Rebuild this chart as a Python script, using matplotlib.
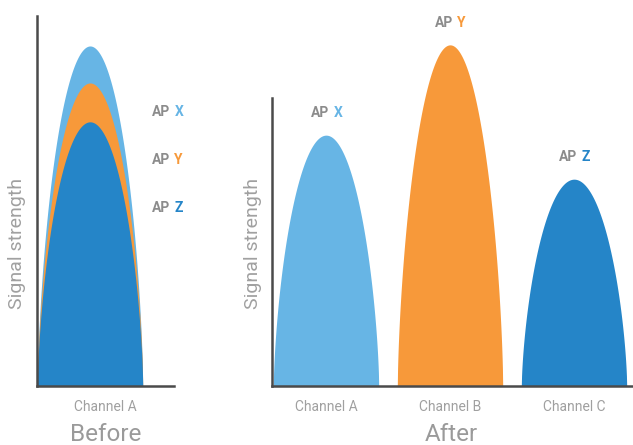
import numpy as np
import matplotlib
matplotlib.use("Agg")
import matplotlib.pyplot as plt
from matplotlib.transforms import offset_copy

# data
aps = ["X", "Y", "Z"]
ap_colors = ["#67B5E5", "#F7993A", "#2585C8"]
before_channels = ["Channel A"]
before_peaks = [91.9, 81.9, 71.4]          # X, Y, Z all on channel A
after_channels = ["Channel A", "Channel B", "Channel C"]
after_peaks = [67.8, 92.2, 55.9]           # X on A, Y on B, Z on C

plt.rcParams['font.family'] = ['Roboto', 'DejaVu Sans']

W, H = 633, 445
fig = plt.figure(figsize=(W / 100, H / 100), dpi=100)

# pixel helpers
base_px = 386
px_per_unit = 3.70       # 100 units = 370 px
ch_px = 124              # px between channels
half_w = 0.425

def make_ax(x0, x1, c0):
    ax = fig.add_axes([x0 / W, (H - base_px) / H, (x1 - x0) / W, base_px / H])
    ax.set_xlim((x0 - c0) / ch_px, (x1 - c0) / ch_px)
    ax.set_ylim(0, base_px / px_per_unit)
    ax.patch.set_visible(False)
    for s in ["top", "right"]:
        ax.spines[s].set_visible(False)
    for s in ["left", "bottom"]:
        ax.spines[s].set_color("#4a4a4a")
        ax.spines[s].set_linewidth(1.8)
    ax.set_yticks([])
    ax.tick_params(axis="x", length=0, pad=10, labelsize=10, labelcolor="#a0a0a0")
    ax.set_ylabel("Signal strength", fontsize=14, color="#a0a0a0")
    return ax

def bump(ax, xc, h, color):
    t = np.linspace(-1, 1, 400)
    y = h * (1 - t ** 2) ** 0.65
    ax.fill_between(xc + t * half_w, 0, y, color=color, lw=0)

def ap_label(ax, x, y, letter, color, dy=0):
    tr = ax.transData
    ax.text(x, y, "AP", transform=offset_copy(tr, fig, x=-1.5, y=dy, units="dots"),
            ha="right", va="center", fontsize=10, fontweight="bold", color="#8c8c8c")
    ax.text(x, y, letter, transform=offset_copy(tr, fig, x=2.5, y=dy, units="dots"),
            ha="left", va="center", fontsize=10, fontweight="bold", color=color)

# Before
ax1 = make_ax(37, 174, 90)
ax1.spines["left"].set_bounds(0, (base_px - 16) / px_per_unit)
for h, c in zip(before_peaks, ap_colors):
    bump(ax1, 0, h, c)
ax1.set_xticks([np.mean(ax1.get_xlim())], before_channels)
ax1.yaxis.set_label_coords((26 - 37) / 137, 0.37)
for i, (a, c) in enumerate(zip(aps, ap_colors)):
    ap_label(ax1, (172 - 90) / ch_px, (base_px - 112 - 48 * i) / px_per_unit, a, c)
ax1.text(0.5, -0.095, "Before", transform=ax1.transAxes, ha="center", va="top",
         fontsize=17.5, color="#9a9a9a")

# After
ax2 = make_ax(272, 633, 326)
ax2.spines["left"].set_bounds(0, (base_px - 98) / px_per_unit)
for i, (h, c) in enumerate(zip(after_peaks, ap_colors)):
    bump(ax2, i, h, c)
    ap_label(ax2, i + 0.04, h, aps[i], c, dy=22)
ax2.set_xticks(range(len(after_channels)), after_channels)
ax2.yaxis.set_label_coords((262 - 272) / 361, 0.37)
ax2.text((451 - 272) / 361, -0.095, "After", transform=ax2.transAxes, ha="center",
         va="top", fontsize=17.5, color="#9a9a9a")

fig.savefig("out.png", dpi=100)
